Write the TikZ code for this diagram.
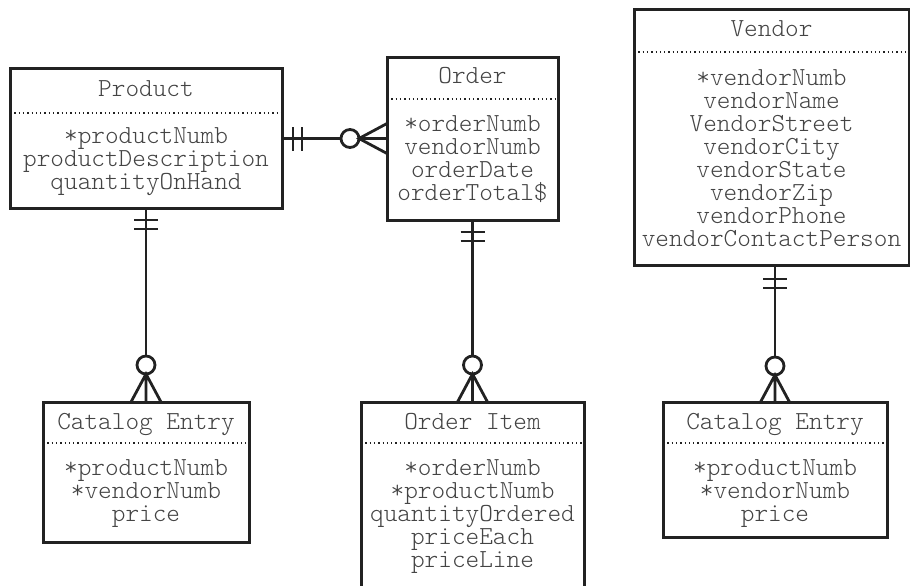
\documentclass[tikz,border=0pt]{standalone}
\usepackage{fontspec}
\setmonofont{lmmonolt10-regular.otf}
\usetikzlibrary{calc}
\definecolor{ink}{HTML}{222222}
\definecolor{txt}{HTML}{444444}
% one centred line per attribute, 23pt apart, starting at the given baseline
\newcommand\erfields[4]{%
  \foreach \fld [count=\i] in {#4} \node[field] (#1-\i) at (#2,{#3+23*(\i-1)}) {\fld};}
\begin{document}
\begin{tikzpicture}[x=1pt,y=-1pt,
  box/.style={rectangle,draw=ink,fill=white,line width=3pt,inner sep=0pt,outer sep=0pt,anchor=north west},
  title/.style={text=txt,font=\ttfamily\fontsize{26}{23}\selectfont,inner sep=0pt,anchor=base,
    text height=14pt,text depth=4pt},
  field/.style={title},
  sep/.style={draw=ink,line width=1.1pt,dash pattern=on 1.3pt off 3pt},
  link/.style={draw=ink,line width=2.8pt},
  pics/mandone/.style={code={\draw[link] (-12,0) -- (12,0) (-12,9) -- (12,9);}},
  pics/zeromany/.style={code={%
    \draw[link,fill=white] (0,0) circle[radius=9pt];
    \draw[link] (-15,37) -- (0,9) -- (15,37) (0,9) -- (0,37);}}]
\useasboundingbox (0,0) rectangle (910,586);
\clip (0,0) rectangle (910,586);

% entity boxes
\node[box,minimum width=272pt,minimum height=139pt] (prod) at (10,69) {};
\node[box,minimum width=171pt,minimum height=162pt] (ord)  at (387,58) {};
\node[box,minimum width=275pt,minimum height=255pt] (ven)  at (634,10) {};
\node[box,minimum width=206pt,minimum height=140pt] (ce1)  at (43,402) {};
\node[box,minimum width=223pt,minimum height=220pt] (oi)   at (361,402) {};
\node[box,minimum width=224pt,minimum height=135pt] (ce2)  at (663,402) {};

% dotted separators under the titles
\draw[sep] ($(prod.north west)+(0,44)$) -- ($(prod.north east)+(0,44)$);
\draw[sep] ($(ord.north west)+(0,41)$) -- ($(ord.north east)+(0,41)$);
\draw[sep] ($(ven.north west)+(0,42)$) -- ($(ven.north east)+(0,42)$);
\draw[sep] ($(ce1.north west)+(0,41)$) -- ($(ce1.north east)+(0,41)$);
\draw[sep] ($(oi.north west)+(0,41)$) -- ($(oi.north east)+(0,41)$);
\draw[sep] ($(ce2.north west)+(0,41)$) -- ($(ce2.north east)+(0,41)$);

% titles
\node[title] (prod-t) at ($(prod.north)+(0,27)$) {Product};
\node[title] (ord-t)  at ($(ord.north)+(0,26)$) {Order};
\node[title] (ven-t)  at ($(ven.north)+(0,27)$) {Vendor};
\node[title] (ce1-t)  at ($(ce1.north)+(0,27)$) {Catalog Entry};
\node[title] (oi-t)   at ($(oi.north)+(0,27)$) {Order Item};
\node[title] (ce2-t)  at ($(ce2.north)+(0,27)$) {Catalog Entry};

% attributes
\erfields{pf}{146}{143}{*productNumb,productDescription,quantityOnHand}
\erfields{of}{472.5}{131}{*orderNumb,vendorNumb,orderDate,orderTotal\$}
\erfields{vf}{771.5}{85}{*vendorNumb,vendorName,VendorStreet,vendorCity,vendorState,vendorZip,vendorPhone,vendorContactPerson}
\erfields{cf}{146}{475}{*productNumb,*vendorNumb,price}
\erfields{if}{472.5}{475}{*orderNumb,*productNumb,quantityOrdered,priceEach,priceLine}
\erfields{kf}{775}{475}{*productNumb,*vendorNumb,price}

% relationships
\coordinate (po) at (prod.east -| ord.west);
\draw[link] (prod.east) -- (po);
\pic[rotate=90] at ($(prod.east)+(11,0)$) {mandone};
\pic[rotate=90] at ($(po)+(-37,0)$) {zeromany};

\draw[link] (prod.south) -- (ce1.north);
\pic at ($(prod.south)+(0,12)$) {mandone};
\pic at ($(ce1.north)+(0,-37)$) {zeromany};

\coordinate (oo) at (ord.south |- oi.north);
\draw[link] (ord.south) -- (oo);
\pic at ($(ord.south)+(0,12)$) {mandone};
\pic at ($(oo)+(0,-37)$) {zeromany};

\coordinate (vv) at (ven.south -| ce2.north);
\draw[link] (vv) -- (ce2.north);
\pic at ($(vv)+(0,14)$) {mandone};
\pic at ($(ce2.north)+(0,-36)$) {zeromany};
\end{tikzpicture}
\end{document}
